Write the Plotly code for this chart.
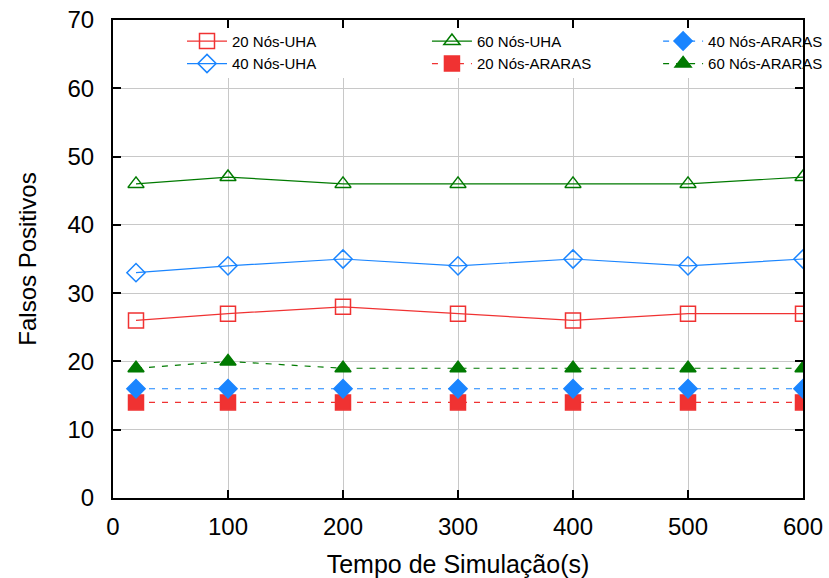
import plotly.graph_objects as go

x_vals = [20, 100, 200, 300, 400, 500, 600]
uha_20 = [26, 27, 28, 27, 26, 27, 27]
uha_40 = [33, 34, 35, 34, 35, 34, 35]
uha_60 = [46, 47, 46, 46, 46, 46, 47]
araras_20 = [14, 14, 14, 14, 14, 14, 14]
araras_40 = [16, 16, 16, 16, 16, 16, 16]
araras_60 = [19, 20, 19, 19, 19, 19, 19]

RED = "#f03232"
BLUE = "#1a85ff"
GREEN = "#007a00"
FONT = "Liberation Sans, Arial, sans-serif"

series = [
    ("20 Nós-UHA", uha_20, RED, "square-open", "solid", "legend"),
    ("40 Nós-UHA", uha_40, BLUE, "diamond-open", "solid", "legend"),
    ("60 Nós-UHA", uha_60, GREEN, "triangle-up-open", "solid", "legend2"),
    ("20 Nós-ARARAS", araras_20, RED, "square", "6px,7px", "legend2"),
    ("40 Nós-ARARAS", araras_40, BLUE, "diamond", "6px,7px", "legend3"),
    ("60 Nós-ARARAS", araras_60, GREEN, "triangle-up", "6px,7px", "legend3"),
]

fig = go.Figure()
for name, ys, col, sym, dash, leg in series:
    fig.add_trace(go.Scatter(
        x=x_vals, y=ys, name=name, mode="lines+markers",
        line=dict(color=col, width=1.2, dash=dash),
        marker=dict(symbol=sym, size=15 if "square" in sym else 14, color=col,
                    line=dict(color=col, width=1.5)),
        legend=leg,
    ))

fig.add_shape(type="rect", xref="x", yref="y", x0=0, x1=600, y0=61.5, y1=70,
              fillcolor="white", line=dict(width=0), layer="between")

axis_common = dict(
    showline=True, linecolor="black", linewidth=2, mirror="ticks",
    ticks="inside", ticklen=8, tickcolor="black", tickwidth=1.5,
    showgrid=True, gridcolor="#c8c8c8", gridwidth=1, zeroline=False,
    automargin=False,
    tickfont=dict(family=FONT, size=24, color="black"),
)

fig.update_xaxes(range=[0, 600], dtick=100, ticklabelstandoff=6, **axis_common,
                 title=dict(text="Tempo de Simulação(s)", standoff=17,
                            font=dict(family=FONT, size=25, color="black")))
fig.update_yaxes(range=[0, 70], dtick=10, ticklabelstandoff=12, **axis_common,
                 title=dict(text="Falsos Positivos", standoff=24,
                            font=dict(family=FONT, size=24, color="black")))

leg_common = dict(orientation="v", y=0.99, xanchor="left", yanchor="top",
                  bgcolor="rgba(0,0,0,0)", font=dict(size=15, color="black"),
                  itemwidth=40, tracegroupgap=0)

fig.update_layout(
    width=829, height=578,
    margin=dict(l=113, r=26, t=20, b=80, autoexpand=False),
    plot_bgcolor="white", paper_bgcolor="white",
    font=dict(family=FONT, color="black"),
    legend=dict(x=0.10, **leg_common),
    legend2=dict(x=0.455, **leg_common),
    legend3=dict(x=0.79, **leg_common),
    showlegend=True,
)

fig.write_html("out.html", post_script="document.body.style.margin='0';",
               config={"displayModeBar": False})
